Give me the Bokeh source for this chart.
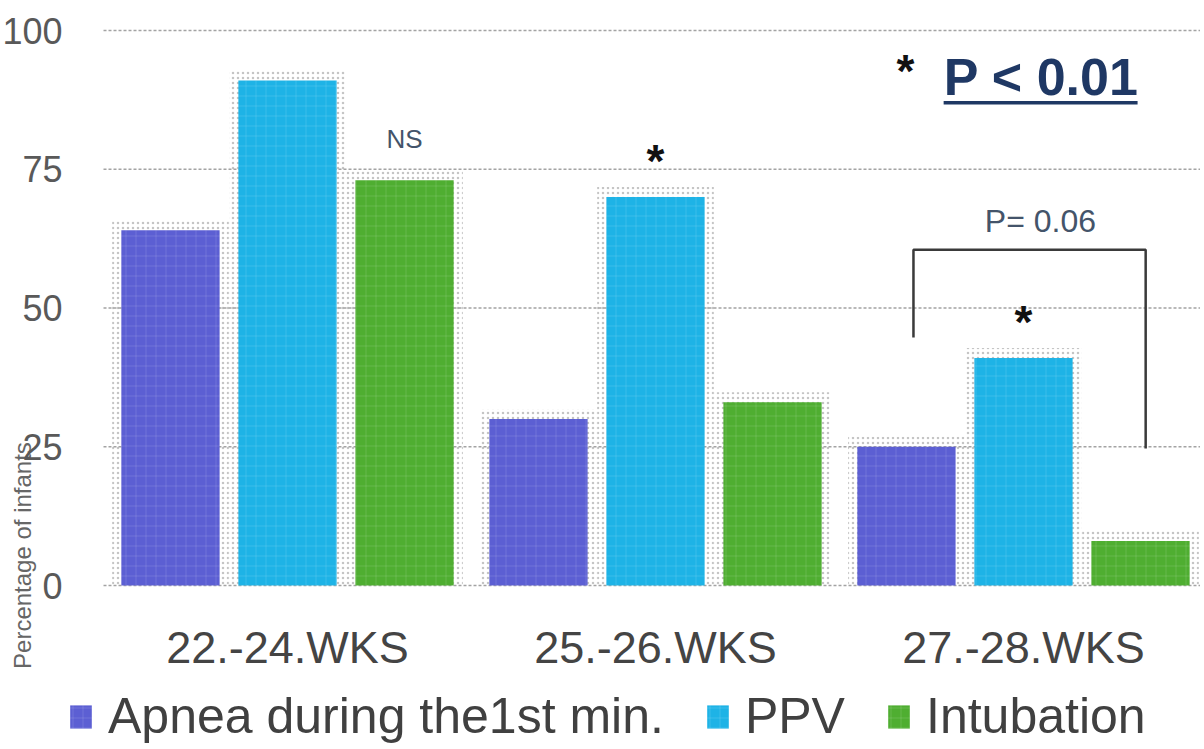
import math
from bokeh.plotting import figure
from bokeh.models import (ColumnDataSource, FixedTicker, Legend, LegendItem, Range1d)
from bokeh.transform import dodge
from bokeh.core.properties import value
from bokeh.embed import file_html
from bokeh.resources import INLINE

# ---------------- data ----------------
groups = ["22.-24.WKS", "25.-26.WKS", "27.-28.WKS"]
series = ["Apnea during the1st min.", "PPV", "Intubation"]
apnea = [64, 30, 25]
ppv = [91, 70, 41]
intubation = [73, 33, 8]
y_ticks = [0, 25, 50, 75, 100]
colors = ["#5c5fd3", "#1eb3e6", "#4fae31"]

star_groups = [1, 2]          # groups whose PPV bar is marked with *
ns_group = 0                  # group marked NS
bracket_legs = [44.7, 24.7]   # bracket leg ends (left, right), in %
bracket_top = 60.5
p_trend = "P= 0.06"
p_sig = "P < 0.01"
y_title = "Percentage of infants"

SANS = "Liberation Sans"

xpos = [i + 0.5 for i in range(len(groups))]
src = ColumnDataSource(dict(x=xpos, apnea=apnea, ppv=ppv, intub=intubation,
                            apnea_h=[v + 1.8 for v in apnea],
                            ppv_h=[v + 1.8 for v in ppv],
                            intub_h=[v + 1.8 for v in intubation]))

# the frame spans the whole canvas; the value axes are pinned inside it
p = figure(x_range=Range1d(-0.2799, 2.981), y_range=Range1d(-29.19, 105.41),
           width=1200, height=747, output_backend="svg", toolbar_location=None,
           min_border=0)
p.outline_line_color = None
p.background_fill_color = "white"
p.border_fill_color = "white"
p.grid.visible = False

# dotted grid lines across the plotting area
p.segment(x0=[0] * len(y_ticks), x1=[2.981] * len(y_ticks), y0=y_ticks, y1=y_ticks,
          line_color="#a3a3a3", line_dash="3 2", line_width=1.5)

off = 0.318
bw = 0.267
fields = ["apnea", "ppv", "intub"]
offsets = [-off, 0.0, off]
renderers = []
for f, o, c in zip(fields, offsets, colors):
    # faint dotted halo
    p.vbar(x=dodge("x", o), top=f + "_h", width=bw + 0.05,
           source=src, fill_color=None, line_color=None,
           hatch_pattern="dot", hatch_color="#8a8a8a", hatch_alpha=0.5,
           hatch_scale=5, hatch_weight=1)
    r = p.vbar(x=dodge("x", o), top=f, width=bw, source=src,
               fill_color=c, line_color=None,
               hatch_pattern="+", hatch_color="white", hatch_alpha=0.12,
               hatch_scale=10, hatch_weight=1)
    renderers.append(r)

# axes
p.yaxis.fixed_location = 0
p.yaxis.ticker = FixedTicker(ticks=y_ticks)
p.yaxis.axis_line_color = None
p.yaxis.major_tick_line_color = None
p.yaxis.minor_tick_line_color = None
p.yaxis.major_label_text_font = SANS
p.yaxis.major_label_text_font_size = "36px"
p.yaxis.major_label_text_color = "#595959"
p.yaxis.major_label_standoff = 35

p.xaxis.fixed_location = 0
p.xaxis.ticker = FixedTicker(ticks=xpos)
p.xaxis.major_label_overrides = {x: g for x, g in zip(xpos, groups)}
p.xaxis.axis_line_color = None
p.xaxis.major_tick_line_color = None
p.xaxis.minor_tick_line_color = None
p.xaxis.major_label_text_font = SANS
p.xaxis.major_label_text_font_size = "45px"
p.xaxis.major_label_text_color = "#444444"
p.xaxis.major_label_standoff = 30

# y axis title (placed low, as in the reference)
p.text(x=[-0.220], y=[5.4], text=[y_title], angle=math.pi / 2,
       text_font=value(SANS), text_font_size="24px", text_color="#666666",
       text_align="center", text_baseline="middle")

# NS
p.text(x=[xpos[ns_group] + off], y=[80.5], text=["NS"], text_font=value(SANS),
       text_font_size="26px", text_color="#44546a", text_align="center",
       text_baseline="middle")

# stars above PPV bars
p.text(x=[xpos[g] for g in star_groups], y=[ppv[g] + 6.5 for g in star_groups],
       text=["*"] * len(star_groups), text_font=value(SANS), text_font_style="bold",
       text_font_size="46px", text_color="#111111", text_align="center",
       text_baseline="middle")

# bracket
xl = xpos[2] - 0.299
xr = xpos[2] + 0.332
p.multi_line(xs=[[xl, xl, xr, xr]], ys=[[bracket_legs[0], bracket_top, bracket_top, bracket_legs[1]]],
             line_color="#3a3a3a", line_width=2.5)
p.text(x=[2.546], y=[65.6], text=[p_trend], text_font=value(SANS),
       text_font_size="32px", text_color="#44546a", text_align="center",
       text_baseline="middle")

# significance key
p.text(x=[2.179], y=[92.7], text=["*"], text_font=value(SANS), text_font_style="bold",
       text_font_size="46px", text_color="#111111", text_align="center",
       text_baseline="middle")
p.text(x=[2.283], y=[91.6], text=[p_sig], text_font=value(SANS), text_font_style="bold",
       text_font_size="52px", text_color="#1f3864", text_align="left",
       text_baseline="middle")
p.segment(x0=[2.283], y0=[87.0], x1=[2.810], y1=[87.0],
          line_color="#1f3864", line_width=3.5)

# legend
legend = Legend(items=[LegendItem(label=s, renderers=[r]) for s, r in zip(series, renderers)],
                orientation="horizontal", location=(67, 2),
                label_text_font=SANS, label_text_font_size="50px",
                label_text_color="#404040", glyph_width=27, glyph_height=29,
                label_standoff=14, spacing=40, padding=0, margin=0,
                border_line_color=None, background_fill_alpha=0)
p.add_layout(legend, "center")

open("out.html", "w").write(file_html(p, INLINE))
